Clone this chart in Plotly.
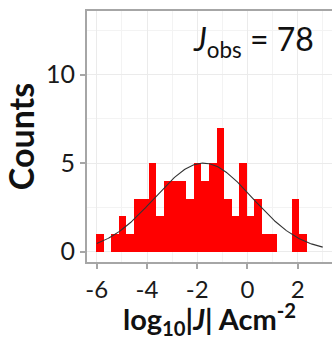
import numpy as np
import plotly.graph_objects as go

# Histogram of log10|J| (bin width 0.3)
bin_start = -6.03
bin_width = 0.3
counts = [1, 0, 1, 2, 1, 3, 3, 5, 2,
          4, 4, 4, 3, 5, 4, 5, 7, 3, 2,
          5, 2, 3, 1, 1, 0, 0, 3, 1]

# Fitted normal curve parameters
fit_mean = -1.75
fit_sd = 1.95
fit_peak = 5.0
curve_from, curve_to = -6.0, 3.0

x_ticks = [-6, -4, -2, 0, 2]
x_tick_labels = ["-6", "-4", "-2", "0", "2"]
y_ticks = [0, 5, 10]
y_tick_labels = ["0", "5", "10"]

n_obs = 78
x_title = "log<sub>10</sub>|<i>J</i>| Acm<sup>-2</sup>"
y_title = "Counts"

centers = [bin_start + bin_width * (k + 0.5) for k in range(len(counts))]
cx = np.linspace(curve_from, curve_to, 200)
cy = fit_peak * np.exp(-0.5 * ((cx - fit_mean) / fit_sd) ** 2)

FONT = "Lato"
GRID = "#EBEBEB"
BORDER = "#A6A6A6"

fig = go.Figure()
fig.add_trace(go.Bar(x=centers, y=counts, width=bin_width,
                     marker=dict(color="#FF0000", line=dict(width=0)),
                     showlegend=False))
fig.add_trace(go.Scatter(x=cx, y=cy, mode="lines",
                         line=dict(color="#333333", width=1.1),
                         showlegend=False))

fig.update_layout(
    width=332, height=338,
    margin=dict(l=86, r=0, t=10, b=75),
    paper_bgcolor="white", plot_bgcolor="white",
    bargap=0,
    font=dict(family=FONT, color="#1a1a1a"),
    xaxis=dict(range=[-6.43, 3.37], tickvals=x_ticks, ticktext=x_tick_labels,
               automargin=False,
               showgrid=True, gridcolor=GRID, gridwidth=1.2,
               minor=dict(dtick=1, tick0=1, showgrid=True, gridcolor="#F3F3F3", gridwidth=0.8),
               zeroline=False, ticks="outside", ticklen=5, tickcolor=BORDER, tickwidth=1.5,
               tickfont=dict(size=24, color="#1a1a1a")),
    yaxis=dict(range=[-0.64, 13.65], tickvals=y_ticks, ticktext=y_tick_labels,
               automargin=False,
               showgrid=True, gridcolor=GRID, gridwidth=1.2,
               minor=dict(dtick=2.5, tick0=2.5, showgrid=True, gridcolor="#F3F3F3", gridwidth=0.8),
               zeroline=False, ticks="outside", ticklen=5, tickcolor=BORDER, tickwidth=1.5,
               tickfont=dict(size=25, color="#1a1a1a"),
               title=dict(text=y_title, font=dict(size=34, weight="bold", color="#111111"),
                          standoff=2)),
    shapes=[dict(type="rect", xref="paper", yref="paper", x0=0, x1=1.05, y0=0, y1=1,
                 line=dict(color=BORDER, width=2), layer="above")],
    annotations=[
        dict(text="<i>J</i><sub>obs</sub> = " + str(n_obs),
             xref="x", yref="y", x=2.72, y=11.9, xanchor="right", yanchor="middle",
             showarrow=False, font=dict(size=32, color="#111111", family=FONT)),
        dict(text=x_title, xref="paper", yref="paper", x=0.5, y=-0.13,
             xanchor="center", yanchor="top", showarrow=False,
             font=dict(size=29, weight="bold", color="#111111", family=FONT)),
    ],
)

fig.write_html("out.html", config={"displayModeBar": False},
               post_script="document.body.style.margin='0';document.body.style.overflow='hidden';")
